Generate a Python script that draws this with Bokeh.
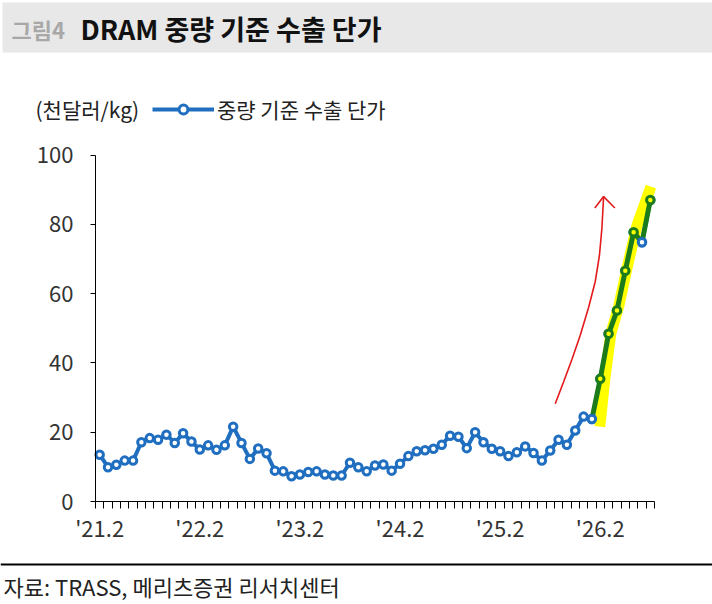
from bokeh.plotting import figure
from bokeh.models import Range1d, FixedTicker, Label, Legend, LegendItem, Span, BoxAnnotation
from bokeh.embed import file_html
from bokeh.resources import INLINE

# ---------------- data ----------------
values = [13.5, 9.9, 10.6, 11.8, 11.8, 17.1, 18.3, 17.8, 19.3, 16.9,
          19.7, 17.3, 15.0, 16.2, 14.9, 16.2, 21.6, 16.9, 12.3, 15.3,
          13.9, 8.9, 8.7, 7.3, 7.8, 8.5, 8.7, 7.8, 7.5, 7.5,
          11.2, 9.9, 8.7, 10.4, 10.7, 8.9, 10.9, 13.1, 14.5, 14.8,
          15.2, 16.4, 19.0, 18.7, 15.4, 20.0, 17.1, 15.2, 14.5, 13.1,
          14.2, 15.9, 14.0, 11.8, 14.7, 17.8, 16.4, 20.5, 24.5, 23.8,
          35.4, 48.4, 55.1, 66.6, 77.7, 74.8, 87.0]
x_idx = list(range(len(values)))          # monthly, first point = '21.2
tick_labels = ["'21.2", "'22.2", "'23.2", "'24.2", "'25.2", "'26.2"]
tick_pos = [12 * i for i in range(len(tick_labels))]
y_ticks = [0, 20, 40, 60, 80, 100]
y_min, y_max = 0, 100

surge_start = 59                           # hand-drawn green overlay
green_marked = [60, 61, 62, 63, 64, 66]
blue_on_top = [59, 65]

# hand-drawn highlighter band and red arrow (data coordinates)
hl_x = [59.95, 60.55, 61.27, 62.23, 63.19, 64.39, 66.07]
hl_y = [21.6, 35.5, 48.5, 56.5, 67.2, 79.6, 90.9]
arrow_x = [54.6, 55.6, 56.6, 57.6, 58.6, 59.4, 59.9, 60.2, 60.4]
arrow_y = [28.2, 34.5, 41.0, 48.0, 56.0, 63.5, 71.0, 79.0, 88.0]
head_x = [59.35, 60.4, 61.75]
head_y = [84.7, 88.0, 84.7]

series_name = "중량 기준 수출 단가"
unit_text = "(천달러/kg)"
fig_no = "그림4"
title_text = "DRAM 중량 기준 수출 단가"
source_text = "자료: TRASS, 메리츠증권 리서치센터"

# ---------------- style / layout ----------------
FONT = "Noto Sans CJK KR"
BLUE = "#1F6EC0"
GREEN = "#1C7C1C"
YELLOW = "#FFFF00"
RED = "#E31A1C"
W, H = 712, 604
n = len(values)
# plot area in pixels
PL, PR, PT, PB = 95, 654, 154.5, 501
ppx = (PR - PL) / n
ppy = (PB - PT) / (y_max - y_min)
x_lo = -0.5 - PL / ppx
x_hi = -0.5 + (W - PL) / ppx
y_lo = y_min - (H - PB) / ppy
y_hi = y_min + PB / ppy


def sx(px):
    return x_lo + px / ppx


def sy(py):
    return y_hi - py / ppy


p = figure(width=W, height=H, x_range=Range1d(x_lo, x_hi), y_range=Range1d(y_lo, y_hi),
           output_backend="svg", toolbar_location=None, min_border=0)
p.outline_line_color = None
p.grid.visible = False
p.background_fill_color = "white"
p.border_fill_color = "white"

# header bar
p.add_layout(BoxAnnotation(left=sx(2), right=sx(W), top=sy(2), bottom=sy(52),
                           fill_color="#E8E8E8", fill_alpha=1, line_color=None,
                           level="underlay"))
p.add_layout(Label(x=sx(11), y=sy(28), text=fig_no, text_font=FONT, text_font_size="22px",
                   text_color="#A8A8A8", text_font_style="bold", text_baseline="middle"))
p.add_layout(Label(x=sx(80), y=sy(28), text=title_text, text_font=FONT, text_font_size="27px",
                   text_color="#111111", text_font_style="bold", text_baseline="middle"))

# axes placed on the plot area
p.xaxis.fixed_location = y_min
p.xaxis.bounds = (-0.5, n - 0.5)
p.yaxis.fixed_location = -0.5
p.yaxis.bounds = (y_min, y_max)

p.xaxis.ticker = FixedTicker(ticks=tick_pos, minor_ticks=[i - 0.5 for i in range(n + 1)])
p.xaxis.major_label_overrides = {t: l for t, l in zip(tick_pos, tick_labels)}
p.xaxis.major_tick_line_color = None
p.xaxis.major_tick_in = 0
p.xaxis.major_tick_out = 0
p.xaxis.minor_tick_in = 0
p.xaxis.minor_tick_out = 7
p.xaxis.minor_tick_line_color = "black"
p.xaxis.major_label_standoff = 2

p.yaxis.ticker = FixedTicker(ticks=y_ticks)
p.yaxis.major_tick_in = 0
p.yaxis.major_tick_out = 5
p.yaxis.major_tick_line_color = "black"
p.yaxis.minor_tick_line_color = None
p.yaxis.major_label_standoff = 17

for ax in (p.xaxis, p.yaxis):
    ax.axis_line_color = "black"
    ax.major_label_text_font = FONT
    ax.major_label_text_font_size = "22px"
    ax.major_label_text_color = "#333333"

line_r = p.line(x_idx, values, line_color=BLUE, line_width=4)
mark_r = p.scatter(x_idx, values, marker="circle", size=7.5, fill_color="white",
                   line_color=BLUE, line_width=3)

# hand-drawn overlays
p.line(hl_x, hl_y, line_color=YELLOW, line_width=11, line_cap="butt")
p.line(x_idx[surge_start:], values[surge_start:], line_color=GREEN, line_width=5)
p.scatter(green_marked, [values[i] for i in green_marked], marker="circle", size=7.5,
          fill_color=YELLOW, line_color=GREEN, line_width=3)
p.scatter(blue_on_top, [values[i] for i in blue_on_top], marker="circle", size=7.5,
          fill_color="white", line_color=BLUE, line_width=3)
p.line(arrow_x, arrow_y, line_color=RED, line_width=1.6)
p.line(head_x, head_y, line_color=RED, line_width=1.6)

# legend and unit label
legend = Legend(items=[LegendItem(label=series_name, renderers=[line_r, mark_r])],
                location=(152, H - 124), glyph_width=62, glyph_height=22, label_standoff=3,
                padding=0, margin=0, spacing=0, border_line_color=None,
                background_fill_alpha=0, label_text_font=FONT,
                label_text_font_size="21px", label_text_color="#222222")
p.add_layout(legend)
p.add_layout(Label(x=sx(35), y=sy(108), text=unit_text, text_font=FONT,
                   text_font_size="21px", text_color="#222222", text_baseline="middle"))

# footer
p.add_layout(Span(location=sy(564), dimension="width", line_color="black", line_width=2))
p.add_layout(Label(x=sx(3), y=sy(585), text=source_text, text_font=FONT, text_font_size="22px",
                   text_color="#222222", text_baseline="middle"))

open("out.html", "w").write(file_html(p, INLINE))
